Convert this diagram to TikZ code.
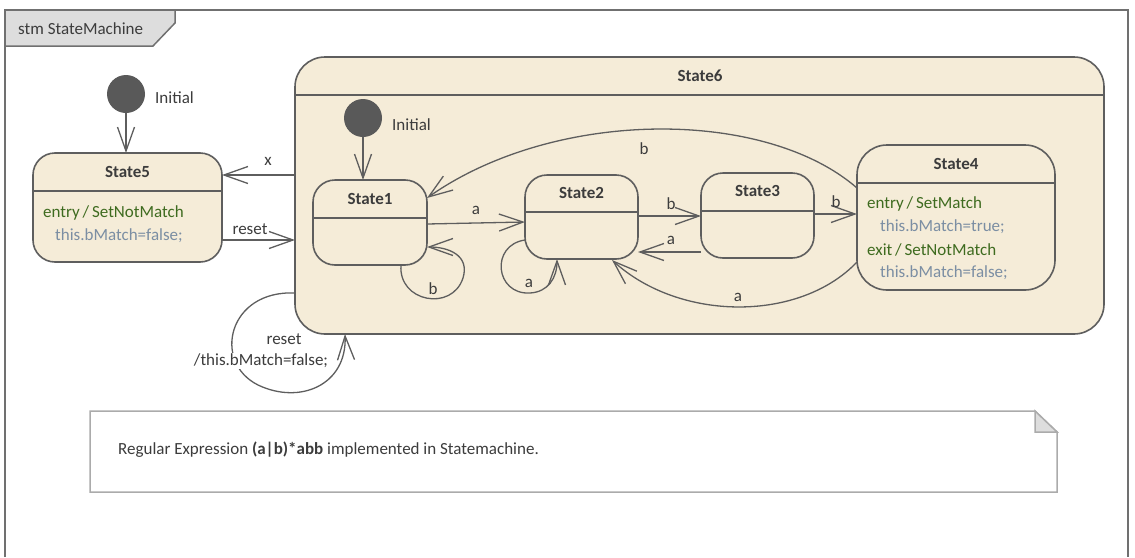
\documentclass[tikz,border=0pt]{standalone}
\usepackage{fontspec}
\setmainfont{Carlito}
\usetikzlibrary{arrows.meta}
\definecolor{stfill}{HTML}{F5ECD8}
\definecolor{stline}{HTML}{5E5E5E}
\definecolor{txt}{HTML}{3C3C3C}
\definecolor{actgreen}{HTML}{3E6B1F}
\definecolor{codegray}{HTML}{7B8EA3}
\definecolor{notegray}{HTML}{ABABAB}
\definecolor{tabfill}{HTML}{DDDDDD}
\definecolor{initfill}{HTML}{595959}
\definecolor{framecol}{HTML}{707070}
\tikzset{
  stbox/.style={draw=stline, fill=stfill, line width=1.6pt, rounded corners=22pt, inner sep=0pt, outer sep=0pt, anchor=north west},
  divline/.style={draw=stline, line width=1.6pt},
  sttitle/.style={font=\fontsize{17}{20}\selectfont\bfseries, text=txt, inner sep=0pt},
  lbl/.style={font=\fontsize{17}{20}\selectfont, text=txt, inner sep=0pt},
  act/.style={font=\fontsize{17}{20}\selectfont, text=actgreen, inner sep=0pt, anchor=west},
  code/.style={font=\fontsize{17}{20}\selectfont, text=codegray, inner sep=0pt, anchor=west},
  initst/.style={circle, fill=initfill, minimum size=38pt, inner sep=0pt, outer sep=0pt},
  tr/.style={draw=stline, line width=1.3pt, -{Straight Barb[length=24pt,width=17pt,line width=1.3pt]}},
}
\begin{document}
\begin{tikzpicture}[x=1pt,y=-1pt]
\useasboundingbox (0,0) rectangle (1135,557);
% frame
\draw[framecol, line width=1.8pt] (5,557) -- (5,10) -- (1128,10) -- (1128,557);
\draw[framecol, line width=1.5pt, fill=tabfill] (5,10) -- (175,10) -- (175,23) -- (153,46) -- (5,46) -- cycle;
\node[lbl, anchor=west] (frametitle) at (18,29) {stm StateMachine};

% State6
\node[stbox, rounded corners=30pt, minimum width=809pt, minimum height=277pt] (s6) at (295,57) {};
\draw[divline] (s6.west |- 0,95) -- (s6.east |- 0,95);
\node[sttitle] (s6t) at (700,76) {State6};

% State5
\node[stbox, minimum width=189pt, minimum height=109pt] (s5) at (33,153) {};
\draw[divline] (s5.west |- 0,191) -- (s5.east |- 0,191);
\node[sttitle] (s5t) at (127.5,172) {State5};
\node[act] (s5a) at (43,213) {entry\,/\,SetNotMatch};
\node[code] (s5b) at (55,236) {this.bMatch=false;};

% State1
\node[stbox, minimum width=114pt, minimum height=85pt] (s1) at (313,180) {};
\draw[divline] (s1.west |- 0,218) -- (s1.east |- 0,218);
\node[sttitle] (s1t) at (370,199) {State1};

% State2
\node[stbox, minimum width=113pt, minimum height=84pt] (s2) at (525,175) {};
\draw[divline] (s2.west |- 0,212) -- (s2.east |- 0,212);
\node[sttitle] (s2t) at (581.5,193) {State2};

% State3
\node[stbox, minimum width=113pt, minimum height=85pt] (s3) at (701,173) {};
\draw[divline] (s3.west |- 0,211) -- (s3.east |- 0,211);
\node[sttitle] (s3t) at (757.5,191) {State3};

% State4
\node[stbox, rounded corners=30pt, minimum width=198pt, minimum height=145pt] (s4) at (857,145) {};
\draw[divline] (s4.west |- 0,183) -- (s4.east |- 0,183);
\node[sttitle] (s4t) at (956,164) {State4};
\node[act] (s4a) at (867,204) {entry\,/\,SetMatch};
\node[code] (s4b) at (880,227) {this.bMatch=true;};
\node[act] (s4c) at (867,250) {exit\,/\,SetNotMatch};
\node[code] (s4d) at (880,273) {this.bMatch=false;};

% initial states
\node[initst] (i5) at (126,94) {};
\node[lbl, anchor=west] (i5l) at (155,98) {Initial};
\node[initst] (i1) at (363,118) {};
\node[lbl, anchor=west] (i1l) at (392,125) {Initial};

\draw[tr] (i5.south) -- (i5.south |- s5.north);
\draw[tr] (i1.south) -- (i1.south |- s1.north);

% State6 <-> State5
\draw[tr] (s6.west |- 0,175) -- (s5.east |- 0,175);
\node[lbl] (lx) at (268,161) {x};
\draw[tr] (s5.east |- 0,240) -- (s6.west |- 0,240);
\node[lbl] (lreset) at (250,229) {reset};

% State6 self transition
\draw[tr] (s6.west |- 0,293) .. controls (228,290) and (212,362) .. (258,385)
  .. controls (300,405) and (347,385) .. (s6.south -| 345,0);
\node[lbl, fill=white, inner sep=1pt] (lr2) at (284,339) {reset};
\node[lbl, fill=white, inner sep=1pt] (lr3) at (261,361) {/this.bMatch=false;};

% State1 -> State2
\draw[tr] (s1.east |- 0,224) -- (s2.west |- 0,222);
\node[lbl] (la1) at (476,210) {a};
% State1 self
\draw[tr] (s1.south -| 401,0) .. controls (398,302) and (452,312) .. (463,278)
  .. controls (470,255) and (448,247) .. (s1.east |- 0,247);
\node[lbl] (lb1) at (433,289) {b};
% State2 self
\draw[tr] (s2.west |- 0,240) .. controls (490,245) and (495,295) .. (530,293)
  .. controls (548,292) and (557,278) .. (s2.south -| 557,0);
\node[lbl] (la2) at (529,283) {a};
% State2 -> State3
\draw[tr] (s2.east |- 0,216) -- (s3.west |- 0,216);
\node[lbl] (lb2) at (671,204) {b};
% State3 -> State2
\draw[tr] (s3.west |- 0,252) -- (s2.east |- 0,252);
\node[lbl] (la3) at (671,240) {a};
% State3 -> State4
\draw[tr] (s3.east |- 0,214) -- (s4.west |- 0,214);
\node[lbl] (lb3) at (836,202) {b};
% State4 -> State1
\draw[tr] (s4.west |- 0,188) .. controls (765,108) and (555,108) .. (s1.east |- 0,198);
\node[lbl] (lb4) at (644,149) {b};
% State4 -> State2
\draw[tr] (s4.west |- 0,262) .. controls (800,322) and (680,322) .. (612,260);
\node[lbl] (la4) at (738,297) {a};

% note
\draw[notegray, line width=1.5pt, fill=white] (90,411) -- (1035,411) -- (1057,432) -- (1057,492) -- (90,492) -- cycle;
\draw[notegray, line width=1.5pt, fill=tabfill] (1035,411) -- (1035,432) -- (1057,432) -- cycle;
\node[lbl, anchor=west, text=txt] (note) at (118,450) {Regular Expression \textbf{(a|b)*abb} implemented in Statemachine.};
\end{tikzpicture}
\end{document}
